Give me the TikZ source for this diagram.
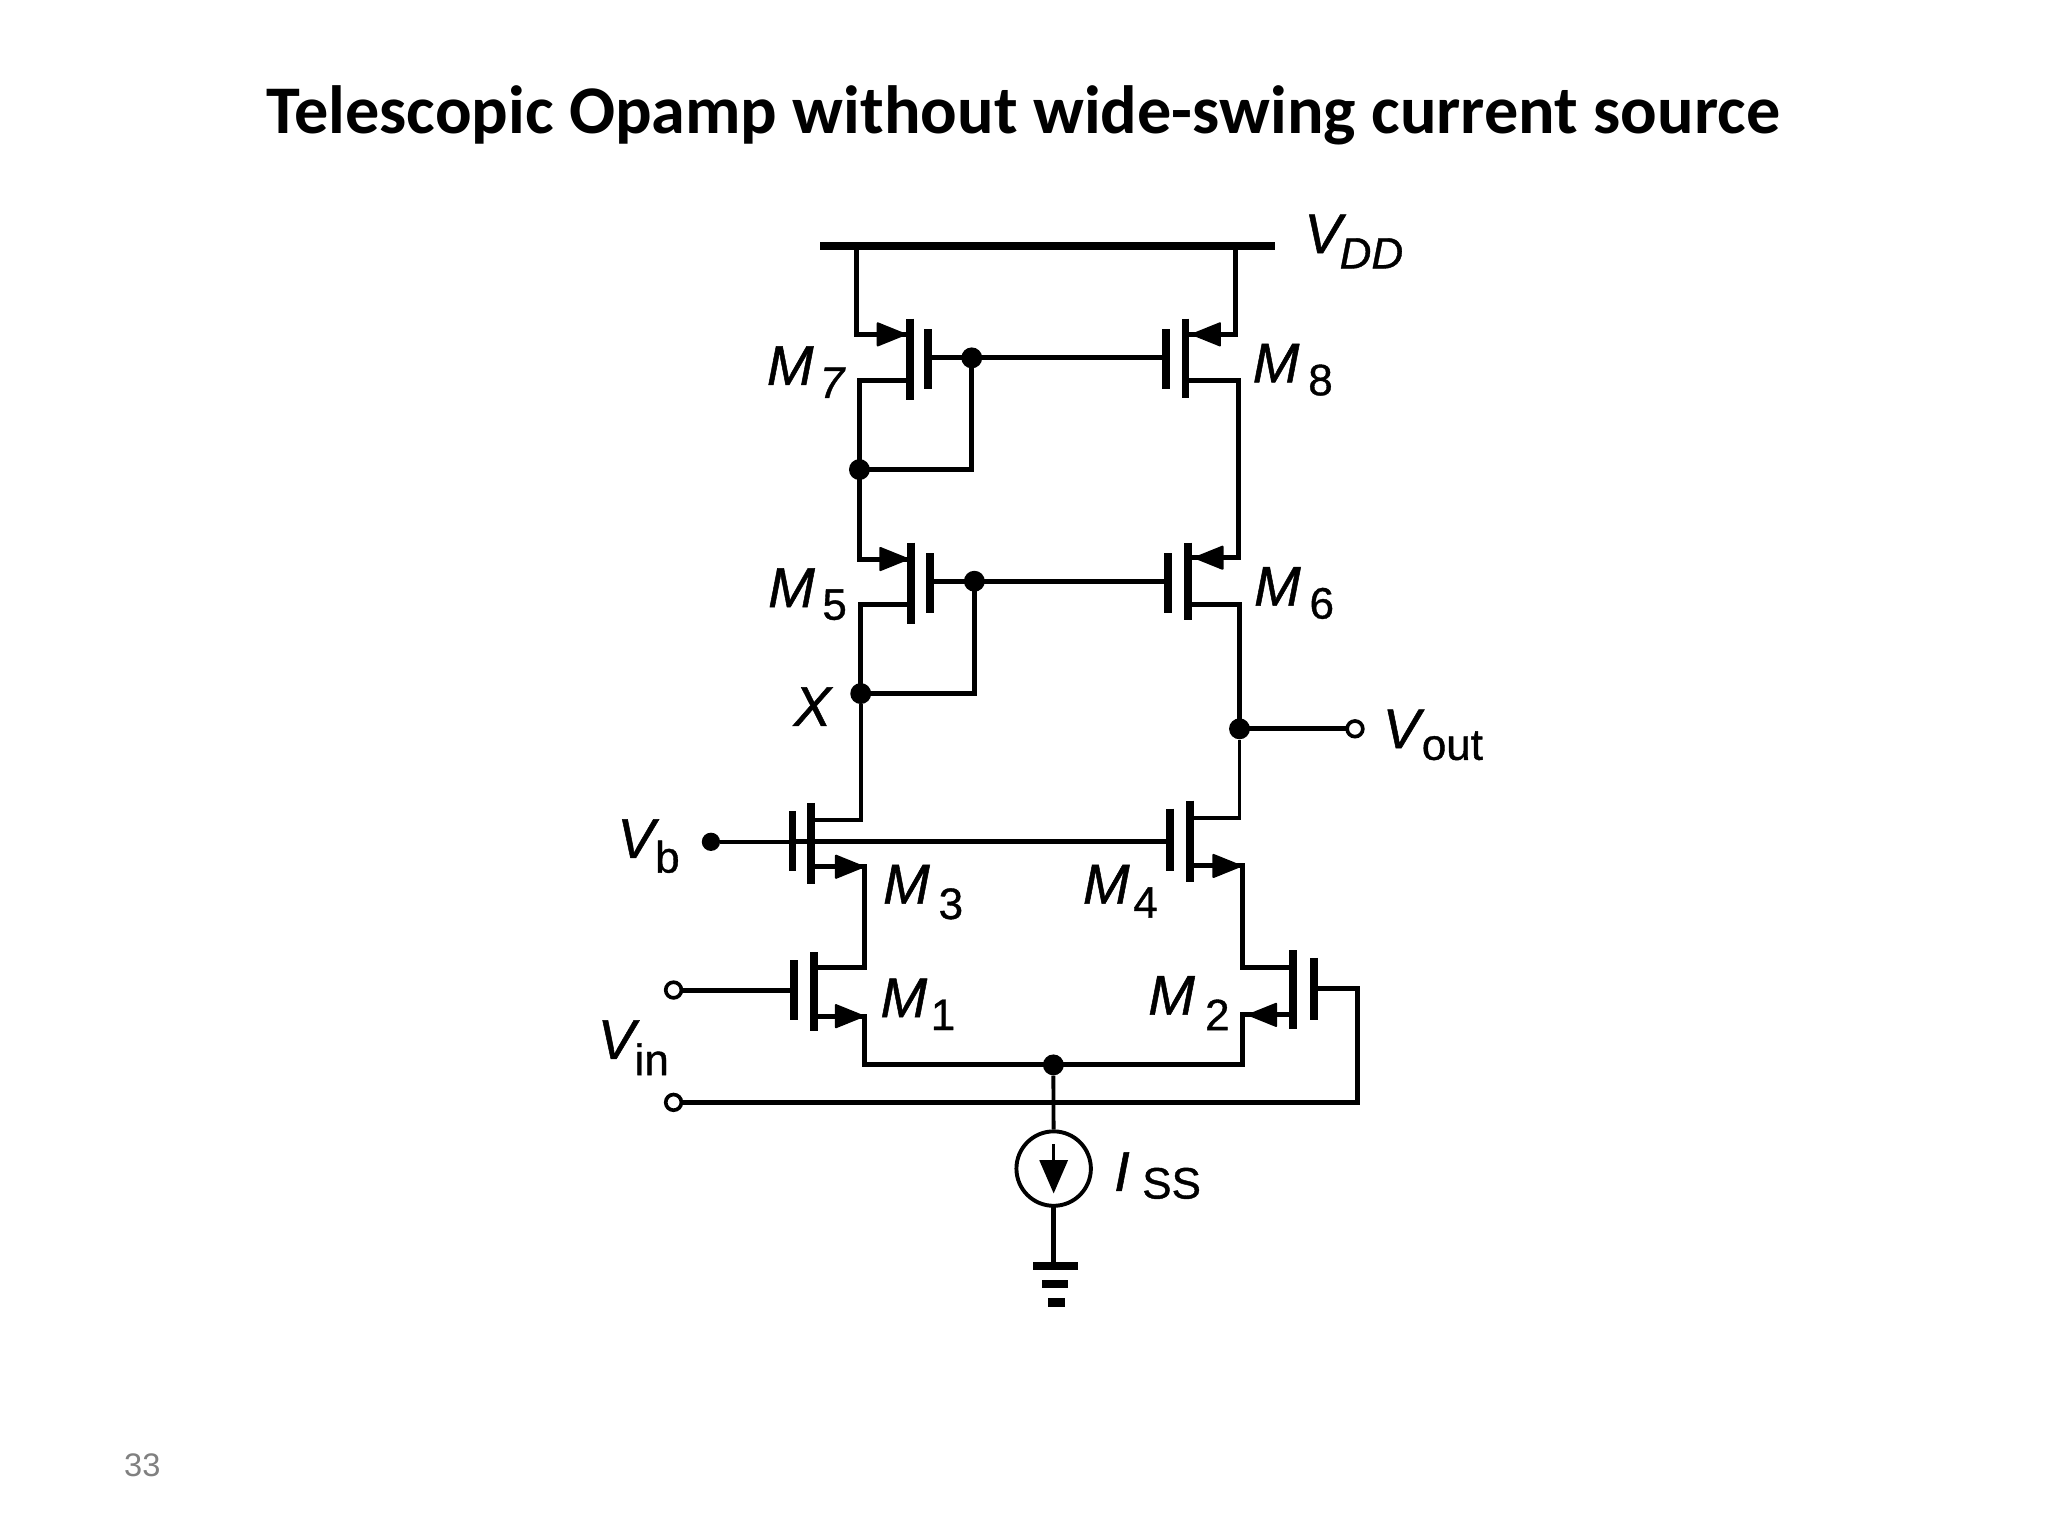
\documentclass[tikz,border=0pt]{standalone}
\usepackage{fontspec}
\setmainfont{Liberation Sans}[FakeBold=0.9]
\newfontfamily\titlefont{Carlito}
\newfontfamily\pagefont{Liberation Sans}
\def\uu{.653pt}
\tikzset{
  wire/.style={line width=3.8*\uu,line join=miter,line cap=rect},
  thin wire/.style={line width=3*\uu},
  bar/.style={line width=6*\uu},
  dot/.style={circle,fill=black,inner sep=0pt,minimum size=16*\uu},
  port/.style={circle,draw=black,fill=white,line width=2.8*\uu,inner sep=0pt,minimum size=12*\uu},
  lab/.style={inner sep=0pt,font=\fontsize{28}{28}\selectfont\itshape},
  sub/.style={inner sep=0pt,font=\fontsize{22}{22}\selectfont},
  subit/.style={inner sep=0pt,font=\fontsize{22}{22}\selectfont\itshape},
  tip/.style={fill=black,draw=black,line width=1.5*\uu,line join=round}
}
\newcommand{\fet}[7]{%
  \coordinate (#1gt) at (#2,#4);\coordinate (#1gb) at (#2,#5);
  \coordinate (#1ct) at (#3,#6);\coordinate (#1cb) at (#3,#7);
  \draw[bar] (#1gt)--(#1gb);\draw[bar] (#1ct)--(#1cb);}
\newcommand{\tipR}[2]{\filldraw[tip] (#1-21,#2-8.5)--(#1,#2)--(#1-21,#2+8.5)--cycle;}
\newcommand{\tipL}[2]{\filldraw[tip] (#1+21,#2-8.5)--(#1,#2)--(#1+21,#2+8.5)--cycle;}
\begin{document}
\begin{tikzpicture}[x=.653pt,y=-.653pt]
\useasboundingbox (0,0) rectangle (1568,1176);
% text
\node[inner sep=0pt,font=\titlefont\bfseries\fontsize{34.1}{34}\selectfont] (title) at (783.5,88) {Telescopic Opamp without wide-swing current source};
\node[inner sep=0pt,text=black!50,font=\pagefont\fontsize{16.3}{16}\selectfont] (page) at (109,1122) {33};
% rail
\coordinate (vddL) at (628,188.5);\coordinate (vddR) at (976,188.5);
\draw[line width=6*\uu] (vddL)--(vddR);
% transistors
\fet{m7}{710.8}{696.7}{252}{298}{244}{306}
\fet{m8}{892.9}{907.7}{252}{298}{244}{305}
\fet{m5}{711.8}{697.7}{423.4}{469.5}{415.5}{477.5}
\fet{m6}{894.3}{909.4}{423.4}{469.5}{415.5}{475}
\fet{m3}{606.7}{621}{621}{667}{614.7}{677}
\fet{m4}{896}{910.8}{619}{667}{613}{675}
\fet{m1}{607.6}{623}{735}{781}{729}{789}
\fet{m2}{1005.8}{990}{733.4}{781}{727.4}{788}
% junctions
\node[dot] (d78) at (744,274) {};
\node[dot] (d7) at (658,359.5) {};
\node[dot] (d56) at (746,445) {};
\node[dot] (dx) at (659,531) {};
\node[dot] (dout) at (949,558) {};
\node[dot] (dtail) at (806.5,815.3) {};
\node[dot,minimum size=14*\uu] (vb) at (544.3,644.5) {};
\node[port] (pout) at (1037.4,558) {};
\node[port] (pin1) at (515.7,758) {};
\node[port] (pin2) at (515.7,844) {};
\node[circle,draw=black,line width=3*\uu,inner sep=0pt,minimum size=57*\uu] (iss) at (806.7,894.7) {};
% named wire corners
\coordinate (s7) at (696.7,256);\coordinate (d7t) at (696.7,291.5);
\coordinate (s8) at (907.7,256);\coordinate (d8t) at (907.7,291.5);
\coordinate (s5) at (697.7,428);\coordinate (d5t) at (697.7,463);
\coordinate (s6) at (909.4,427);\coordinate (d6t) at (909.4,463);
\coordinate (d3t) at (621,628);\coordinate (s3) at (621,663.6);
\coordinate (d4t) at (910.8,626.5);\coordinate (s4) at (910.8,663);
\coordinate (d1t) at (623,740.7);\coordinate (s1) at (623,778);
\coordinate (d2t) at (990,740.7);\coordinate (s2) at (990,777);
\coordinate (g1) at (607.6,758);\coordinate (g2) at (1005.8,756.6);
\coordinate (g7) at (710.8,274);\coordinate (g8) at (892.9,274);
\coordinate (g5) at (711.8,445);\coordinate (g6) at (894.3,445);
\coordinate (g3) at (606.7,644.5);\coordinate (g4) at (896,644.5);
\coordinate (r7) at (656,188.5);\coordinate (r8) at (946,188.5);
\coordinate (c2) at (1039.6,756.6);\coordinate (c2b) at (1039.6,844);
\coordinate (cl) at (661.6,815.3);\coordinate (cr) at (951,815.3);
\coordinate (gnd1) at (806.7,967.6);
\coordinate (g1L) at (791,969);\coordinate (g1R) at (825.6,969);
\coordinate (g2L) at (798,983);\coordinate (g2R) at (817.7,983);
\coordinate (g3L) at (802.5,997);\coordinate (g3R) at (815,997);
\coordinate (a1) at (806.7,876);\coordinate (a2) at (806.7,895);
% wires
\draw[wire] (r7)--(656,256)--(s7);
\draw[wire] (r8)--(946,256)--(s8);
\draw[wire] (d7t)--(658,291.5)--(d7);
\draw[wire] (d7)--(658,428)--(s5);
\draw[wire] (d7)--(744,359.5)--(d78);
\draw[wire] (g7)--(d78);\draw[wire] (d78)--(g8);
\draw[wire] (d8t)--(948,291.5)--(948,427)--(s6);
\draw[wire] (g5)--(d56);\draw[wire] (d56)--(g6);
\draw[wire] (d5t)--(659,463)--(dx);
\draw[wire] (dx)--(746,531)--(d56);
\draw[wire] (d6t)--(949,463)--(dout);
\draw[wire] (dout)--(pout);
\draw[thin wire] (dx)--(659,628)--(d3t);
\draw[thin wire] (dout)--(949,626.5)--(d4t);
\draw[thin wire] (vb)--(g3);
\draw[wire] (g3)--(g4);
\draw[wire] (s3)--(661.6,663.6)--(661.6,740.7)--(d1t);
\draw[wire] (s4)--(951,663)--(951,740.7)--(d2t);
\draw[wire] (pin1)--(g1);
\draw[wire] (s1)--(661.6,778)--(cl)--(dtail);
\draw[wire] (s2)--(951,777)--(cr)--(dtail);
\draw[wire] (g2)--(c2)--(c2b)--(pin2);
\draw[thin wire] (dtail)--(iss);
\draw[wire] (iss)--(gnd1);
\draw[line width=6*\uu] (g1L)--(g1R);
\draw[line width=6*\uu] (g2L)--(g2R);
\draw[line width=7*\uu] (g3L)--(g3R);
\draw[line width=2.4*\uu] (a1)--(a2);
\fill[black] (795.7,888.3)--(817.7,888.3)--(806.7,913.7)--cycle;
% arrowheads
\tipR{693}{256}\tipL{913}{256}\tipR{695}{428}\tipL{915}{427}
\tipR{661}{663.6}\tipR{950}{663}\tipR{661}{778}\tipL{956}{777}
% labels
\node[lab] (lm7) at (605,280) {M};\node[subit] (s7l) at (637,293) {7};
\node[lab] (lm8) at (977,278) {M};\node[sub] (s8l) at (1011,291) {8};
\node[lab] (lm5) at (606,450) {M};\node[sub] (s5l) at (639,463) {5};
\node[lab] (lm6) at (978,449) {M};\node[sub] (s6l) at (1012,462) {6};
\node[lab] (lm3) at (694,677) {M};\node[sub] (s3l) at (728,692) {3};
\node[lab] (lm4) at (847,677) {M};\node[sub] (s4l) at (877,691) {4};
\node[lab] (lm1) at (692,764) {M};\node[sub] (s1l) at (722,777) {1};
\node[lab] (lm2) at (897,762) {M};\node[sub] (s2l) at (932,777) {2};
\node[lab] (lx) at (622,541) {X};
\node[lab] (lvdd) at (1013,179) {V};\node[subit] (ldd) at (1050,194) {DD};
\node[lab] (lvout) at (1073,558) {V};\node[sub] (lout) at (1112,571) {out};
\node[lab] (lvb) at (487,642) {V};\node[sub] (lb) at (511,656) {b};
\node[lab] (lvin) at (472,796) {V};\node[sub] (lin) at (499,811) {in};
\node[lab] (liss) at (859,897) {I};\node[sub] (lss) at (897,906) {SS};
\end{tikzpicture}
\end{document}
